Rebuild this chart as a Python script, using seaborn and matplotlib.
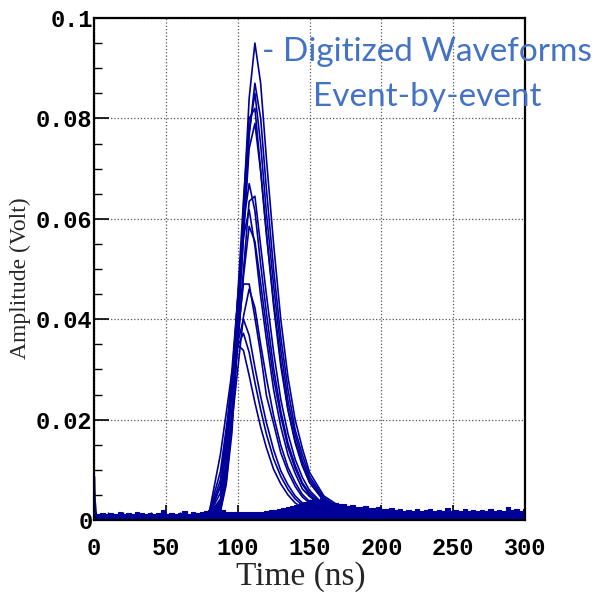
import pandas as pd
import seaborn as sns
import matplotlib.pyplot as plt
from matplotlib.ticker import MultipleLocator

# sample times (ns) used for the pulse part of every waveform
pulse_t = [80, 88, 92, 96, 100, 104, 108, 112, 116, 120, 125, 130, 135, 140, 145, 150, 160, 170, 180, 195]

# amplitudes (Volt), one list per event
w01 = [.0010, .0019, .0076, .0190, .0400, .0620, .0840, .0950, .0870, .0720, .0550, .0400, .0285, .0200, .0143, .0095, .0048, .0029, .0019, .0014]
w02 = [.0010, .0017, .0070, .0174, .0365, .0566, .0766, .0870, .0800, .0660, .0500, .0365, .0260, .0180, .0130, .0087, .0044, .0026, .0017, .0013]
w03 = [.0010, .0030, .0094, .0217, .0408, .0604, .0774, .0850, .0748, .0612, .0468, .0340, .0238, .0170, .0119, .0081, .0041, .0025, .0017, .0013]
w04 = [.0010, .0042, .0116, .0257, .0444, .0635, .0800, .0820, .0697, .0573, .0427, .0307, .0219, .0154, .0108, .0075, .0038, .0023, .0016, .0012]
w05 = [.0010, .0028, .0087, .0201, .0379, .0561, .0740, .0790, .0695, .0569, .0435, .0316, .0221, .0158, .0111, .0075, .0038, .0023, .0016, .0012]
w06 = [.0010, .0054, .0134, .0281, .0436, .0590, .0670, .0616, .0509, .0413, .0303, .0217, .0153, .0109, .0074, .0054, .0028, .0017, .0013, .0010]
w07 = [.0010, .0033, .0091, .0202, .0348, .0497, .0635, .0645, .0546, .0449, .0335, .0240, .0172, .0121, .0085, .0059, .0030, .0018, .0012, .0010]
w08 = [.0010, .0068, .0158, .0298, .0440, .0564, .0618, .0546, .0446, .0360, .0260, .0186, .0130, .0093, .0062, .0047, .0025, .0016, .0011, .0009]
w09 = [.0010, .0038, .0100, .0215, .0348, .0484, .0585, .0555, .0472, .0384, .0283, .0207, .0145, .0103, .0071, .0050, .0026, .0016, .0011, .0009]
w10 = [.0009, .0067, .0149, .0257, .0367, .0470, .0470, .0403, .0331, .0248, .0192, .0134, .0096, .0067, .0046, .0034, .0018, .0012, .0009, .0007]
w11 = [.0010, .0037, .0092, .0193, .0299, .0405, .0460, .0423, .0350, .0283, .0208, .0149, .0105, .0075, .0051, .0037, .0019, .0012, .0009, .0007]
w12 = [.0010, .0080, .0168, .0260, .0352, .0400, .0368, .0304, .0246, .0194, .0140, .0098, .0070, .0048, .0034, .0023, .0014, .0009, .0007, .0005]
w13 = [.0013, .0097, .0182, .0270, .0346, .0372, .0334, .0274, .0220, .0171, .0122, .0087, .0061, .0042, .0030, .0021, .0012, .0008, .0006, .0005]
w14 = [.0012, .0131, .0212, .0295, .0349, .0338, .0288, .0234, .0185, .0144, .0101, .0072, .0050, .0034, .0025, .0017, .0010, .0007, .0006, .0004]

# baseline noise band (upper edge), every 3 ns from 0 to 300
noise_t = list(range(0, 301, 3))
noise_hi = [.0016, .0012, .0013, .0011, .0014, .0012, .0015, .0012, .0013, .0011,
            .0015, .0013, .0012, .0014, .0011, .0013, .0019, .0012, .0014, .0012,
            .0013, .0018, .0012, .0015, .0014, .0016, .0017, .0019, .0022, .0025,
            .0020, .0016, .0015, .0015, .0015, .0015, .0015, .0015, .0015, .0015,
            .0018, .0020, .0020, .0022, .0024, .0026, .0028, .0030, .0033, .0036,
            .0040, .0042, .0039, .0043, .0038, .0036, .0034, .0031, .0032, .0028,
            .0029, .0026, .0025, .0027, .0024, .0023, .0025, .0022, .0021, .0023,
            .0019, .0022, .0018, .0020, .0017, .0022, .0018, .0019, .0021, .0017,
            .0020, .0018, .0024, .0017, .0019, .0018, .0021, .0017, .0019, .0018,
            .0020, .0017, .0022, .0018, .0019, .0017, .0025, .0019, .0022, .0018,
            .0021]

# little spike right at t = 0
spike_t = [0.2, 0.6, 1.4]
spike_v = [0.0086, 0.0040, 0.0012]

x_ticks = [0, 50, 100, 150, 200, 250, 300]
x_labels = ["0", "50", "100", "150", "200", "250", "300"]
y_ticks = [0, 0.02, 0.04, 0.06, 0.08, 0.1]
y_labels = ["0", "0.02", "0.04", "0.06", "0.08", "0.1"]

line_col = "#000099"
note_col = "#4472C4"
mono = "Liberation Mono"
serif = "Liberation Serif"

# long form table for seaborn, one unit per event
events = [w01, w02, w03, w04, w05, w06, w07, w08, w09, w10, w11, w12, w13, w14]
rows = []
for i, vals in enumerate(events):
    for t, v in zip(pulse_t, vals):
        rows.append({"event": i, "t": t, "v": v})
df = pd.DataFrame(rows)

sns.set_style("white")
fig = plt.figure(figsize=(5.99, 5.92), dpi=100)
ax = fig.add_axes([94 / 599, 1 - 520 / 592, 431 / 599, 502 / 592])

ax.fill_between(noise_t, 0, noise_hi, step="mid", color=line_col, lw=0.8, zorder=2)
ax.plot(spike_t, spike_v, color=line_col, lw=1.5, zorder=2)
sns.lineplot(data=df, x="t", y="v", units="event", estimator=None, sort=False,
             color=line_col, lw=1.2, ax=ax, zorder=3)

ax.set_xlim(0, 300)
ax.set_ylim(0, 0.1)
ax.set_xticks(x_ticks, x_labels, fontfamily=mono, fontweight="bold", fontsize=17)
ax.set_yticks(y_ticks, y_labels, fontfamily=mono, fontweight="bold", fontsize=17)
ax.xaxis.set_minor_locator(MultipleLocator(10))
ax.yaxis.set_minor_locator(MultipleLocator(0.005))
ax.tick_params(which="major", direction="in", length=11, width=1.2, color="black",
               labelcolor="black", top=False, right=False, bottom=True, left=True)
ax.tick_params(which="minor", direction="in", length=6, width=1.0, color="black",
               top=False, right=False, bottom=True, left=True)
ax.tick_params(axis="x", pad=12)
ax.tick_params(axis="y", pad=1)
ax.set_xlabel("")
ax.set_ylabel("")

ax.grid(True, which="major", ls=":", lw=0.9, color="#555555")
ax.set_axisbelow(True)
for sp in ax.spines.values():
    sp.set_color("black")
    sp.set_linewidth(1.6)

fig.text(301 / 599, 1 - 577 / 592, "Time (ns)", family=serif, fontsize=24,
         ha="center", va="center")
fig.text(20 / 599, 1 - 278 / 592, "Amplitude (Volt)", family=serif, fontsize=17,
         ha="center", va="center", rotation=90)

ax.text(427 / 599, 1 - 52 / 592, "- Digitized Waveforms", transform=fig.transFigure,
        family="Lato", fontsize=24, color=note_col, ha="center", va="center", zorder=5)
ax.text(427 / 599, 1 - 97 / 592, "Event-by-event", transform=fig.transFigure,
        family="Lato", fontsize=24, color=note_col, ha="center", va="center", zorder=5)

fig.savefig("out.png", dpi=100)
